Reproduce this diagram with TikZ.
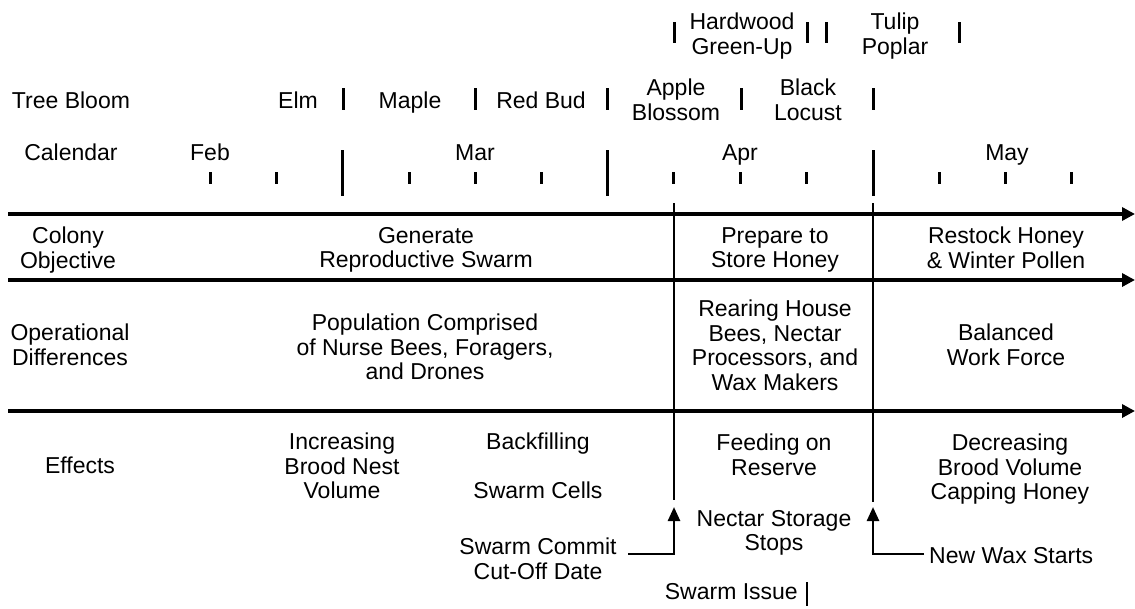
\documentclass[tikz,border=0pt]{standalone}
\usepackage{fontspec}
\setmainfont{Liberation Sans}
\usetikzlibrary{arrows.meta}
\begin{document}
\begin{tikzpicture}[x=1pt,y=-1pt,
  every node/.style={font=\fontsize{23}{24.5}\selectfont, inner sep=0pt},
  lbl/.style={anchor=north, align=center},
  bar/.style={line width=3pt},
  majortick/.style={line width=3pt},
  minortick/.style={line width=3pt},
  mainline/.style={line width=3.5pt, -{Triangle[length=13pt,width=13pt]}},
  divider/.style={line width=2.5pt},
  uparrow/.style={line width=2.5pt, -{Triangle[length=14pt,width=12pt]}}]
\useasboundingbox (0,0) rectangle (1135,608);

% ---------- top row ----------
\node[lbl] (hardwood) at (742,13) {Hardwood\\Green-Up};
\node[lbl] (tulip) at (895,13) {Tulip\\Poplar};
\foreach \x/\n in {674/t1,807/t2,826/t3,959/t4}{
  \coordinate (\n a) at (\x,22); \coordinate (\n b) at (\x,43);
  \draw[bar] (\n a) -- (\n b);}

% ---------- tree bloom row ----------
\node[lbl] (treebloom) at (71,92) {Tree Bloom};
\node[lbl] (elm) at (298,92) {Elm};
\node[lbl] (maple) at (410,92) {Maple};
\node[lbl] (redbud) at (541,92) {Red Bud};
\node[lbl] (apple) at (676,79) {Apple\\Blossom};
\node[lbl] (locust) at (808,79) {Black\\Locust};
\foreach \x/\n in {343/b1,475/b2,607/b3,741/b4,873/b5}{
  \coordinate (\n a) at (\x,88); \coordinate (\n b) at (\x,110);
  \draw[bar] (\n a) -- (\n b);}

% ---------- calendar row ----------
\node[lbl] (calendar) at (71,144) {Calendar};
\node[lbl] (feb) at (210,144) {Feb};
\node[lbl] (mar) at (475,144) {Mar};
\node[lbl] (apr) at (740,144) {Apr};
\node[lbl] (may) at (1007,144) {May};
\foreach \x/\n in {342/m1,607/m2,873/m3}{
  \coordinate (\n a) at (\x,150); \coordinate (\n b) at (\x,196);
  \draw[majortick] (\n a) -- (\n b);}
\foreach \x/\n in {210/n1,276/n2,409/n3,475/n4,541/n5,673/n6,740/n7,806/n8,939/n9,1005/n10,1071/n11}{
  \coordinate (\n a) at (\x,172); \coordinate (\n b) at (\x,184);
  \draw[minortick] (\n a) -- (\n b);}

% ---------- main timeline arrows ----------
\coordinate (h1a) at (8,214);  \coordinate (h1b) at (1135,214);
\coordinate (h2a) at (8,280);  \coordinate (h2b) at (1135,280);
\coordinate (h3a) at (8,411);  \coordinate (h3b) at (1135,411);
\draw[mainline] (h1a) -- (h1b);
\draw[mainline] (h2a) -- (h2b);
\draw[mainline] (h3a) -- (h3b);

% ---------- dividers ----------
\coordinate (v1a) at (674,203); \coordinate (v1b) at (674,500);
\coordinate (v2a) at (873,203); \coordinate (v2b) at (873,502);
\draw[divider] (v1a) -- (v1b);
\draw[divider] (v2a) -- (v2b);

% ---------- colony objective ----------
\node[lbl] (colony) at (68,227) {Colony\\Objective};
\node[lbl] (generate) at (426,227) {Generate\\Reproductive Swarm};
\node[lbl] (prepare) at (775,227) {Prepare to\\Store Honey};
\node[lbl] (restock) at (1006,227) {Restock Honey\\\& Winter Pollen};

% ---------- operational differences ----------
\node[lbl] (operational) at (70,324) {Operational\\Differences};
\node[lbl] (population) at (425,314) {Population Comprised\\of Nurse Bees, Foragers,\\and Drones};
\node[lbl] (rearing) at (775,300) {Rearing House\\Bees, Nectar\\Processors, and\\Wax Makers};
\node[lbl] (balanced) at (1006,324) {Balanced\\Work Force};

% ---------- effects ----------
\node[lbl] (effects) at (80,457) {Effects};
\node[lbl] (increasing) at (342,433) {Increasing\\Brood Nest\\Volume};
\node[lbl] (backfilling) at (538,433) {Backfilling};
\node[lbl] (swarmcells) at (538,482) {Swarm Cells};
\node[lbl] (feeding) at (774,434) {Feeding on\\Reserve};
\node[lbl] (decreasing) at (1010,434) {Decreasing\\Brood Volume\\Capping Honey};
\node[lbl] (nectar) at (774,510) {Nectar Storage\\Stops};
\node[lbl] (commit) at (538,538) {Swarm Commit\\Cut-Off Date};
\node[anchor=north west] (newwax) at (929,547) {New Wax Starts};
\node[anchor=north east] (issue) at (798,583) {Swarm Issue};
\coordinate (issuebara) at (807,582); \coordinate (issuebarb) at (807,606);
\draw[divider] (issuebara) -- (issuebarb);

% ---------- event arrows ----------
\coordinate (c1) at (628,554); \coordinate (tip1) at (674,507);
\coordinate (c2) at (924,554); \coordinate (tip2) at (873,507);
\draw[uparrow] (c1) -| (tip1);
\draw[uparrow] (c2) -| (tip2);
\end{tikzpicture}
\end{document}
